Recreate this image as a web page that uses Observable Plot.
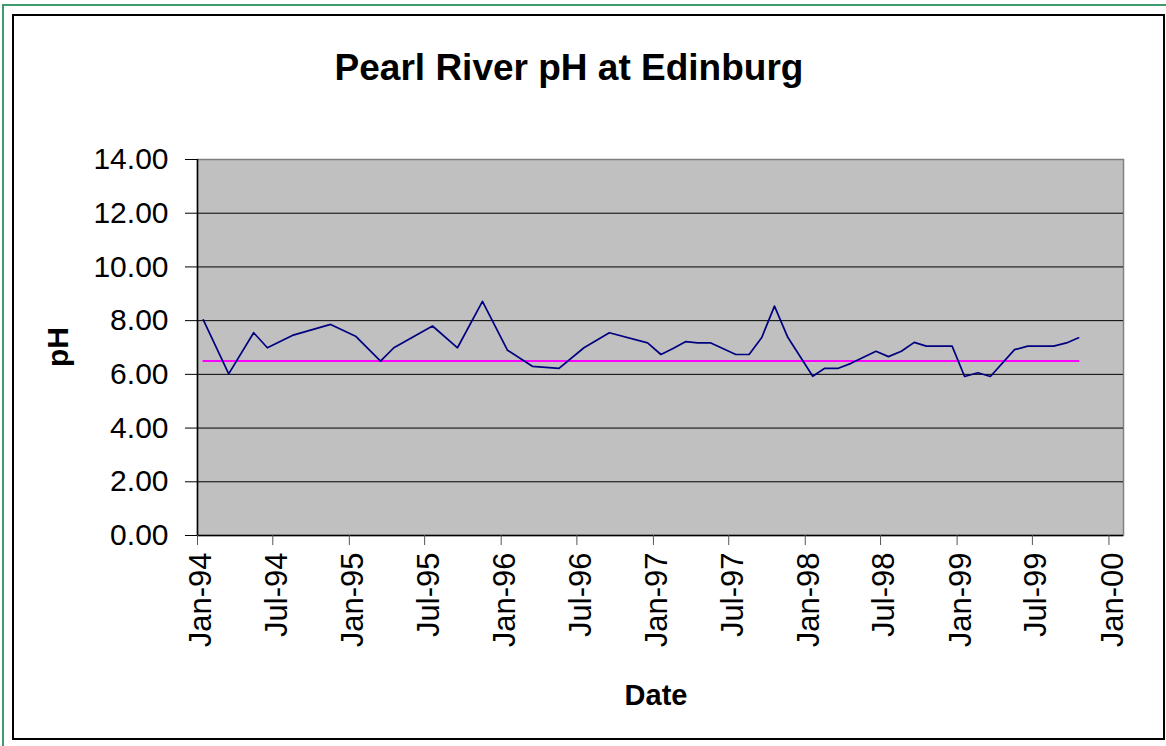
<!DOCTYPE html>
<html>
<head>
<meta charset="utf-8">
<script src="https://cdn.jsdelivr.net/npm/d3@7"></script>
<script src="https://cdn.jsdelivr.net/npm/@observablehq/plot@0.6"></script>
<style>
  html, body { margin: 0; padding: 0; background: #fff; }
  #wrap { position: relative; width: 1166px; height: 746px; overflow: hidden; font-family: "Liberation Sans", Arial, sans-serif; color: #000; }
  #green { position: absolute; left: 2px; top: 4px; width: 1180px; height: 760px; border-left: 2px solid #3d9b6f; border-top: 2px solid #3d9b6f; z-index: 3; pointer-events: none; }
  #black { position: absolute; left: 12px; top: 14px; width: 1149px; height: 722px; border: 2px solid #000; z-index: 3; pointer-events: none; }
  #title { position: absolute; left: 0; top: 49px; width: 1138px; text-align: center; font-weight: bold; font-size: 37px; line-height: 37px; white-space: nowrap; }
  #xlabel { position: absolute; left: 656px; top: 681px; transform: translateX(-50%); font-weight: bold; font-size: 29px; line-height: 29px; white-space: nowrap; }
  #ylabel { position: absolute; left: 58px; top: 347px; transform: translate(-50%, -50%) rotate(-90deg); font-weight: bold; font-size: 30px; line-height: 30px; white-space: nowrap; }
  #chart { position: absolute; left: 0; top: 110px; }
</style>
</head>
<body>
<div id="wrap">
  <div id="green"></div>
  <div id="black"></div>
  <div id="title">Pearl River pH at Edinburg</div>
  <div id="chart"></div>
  <div id="ylabel">pH</div>
  <div id="xlabel">Date</div>
</div>
<script>
// Sample dates and pH values
const sampleDates = [
  "1994-01-15","1994-03-17","1994-05-16","1994-06-18","1994-08-17","1994-11-17",
  "1995-01-16","1995-03-17","1995-04-18","1995-07-20","1995-09-18","1995-11-17",
  "1996-01-16","1996-03-16","1996-05-19","1996-07-18","1996-09-17","1996-12-18",
  "1997-01-19","1997-02-16","1997-03-20","1997-04-17","1997-05-19","1997-07-18",
  "1997-08-19","1997-09-18","1997-10-19","1997-11-20","1998-01-19","1998-02-16",
  "1998-03-20","1998-04-21","1998-06-20","1998-07-20","1998-08-20","1998-09-20",
  "1998-10-19","1998-11-20","1998-12-20","1999-01-19","1999-02-20","1999-03-22",
  "1999-05-19","1999-06-20","1999-07-22","1999-08-21","1999-09-21","1999-10-20"
];
const phValues = [
  8.03, 6.02, 7.55, 6.99, 7.45, 7.86,
  7.42, 6.49, 6.99, 7.80, 6.99, 8.72,
  6.90, 6.30, 6.22, 6.99, 7.55, 7.17,
  6.74, 6.95, 7.22, 7.17, 7.17, 6.74,
  6.74, 7.36, 8.54, 7.38, 5.93, 6.22,
  6.22, 6.41, 6.86, 6.66, 6.86, 7.19,
  7.05, 7.05, 7.05, 5.92, 6.06, 5.92,
  6.92, 7.05, 7.05, 7.05, 7.17, 7.36
];
const standardPH = 6.5;
const yTicks = [0, 2, 4, 6, 8, 10, 12, 14];
const xTickDates = [
  "1994-01-01","1994-07-01","1995-01-01","1995-07-01","1996-01-01","1996-07-01",
  "1997-01-01","1997-07-01","1998-01-01","1998-07-01","1999-01-01","1999-07-01","2000-01-01"
];
const xDomain = ["1994-01-01", "2000-02-05"];

const data = sampleDates.map((d, i) => ({date: new Date(d), ph: phValues[i]}));
const xd = xDomain.map(d => new Date(d));
const xt = xTickDates.map(d => new Date(d));

const chart = Plot.plot({
  width: 1166,
  height: 600,
  marginLeft: 197,
  marginRight: 43,
  marginTop: 49,
  marginBottom: 175,
  style: {background: "transparent", fontFamily: "'Liberation Sans', Arial, sans-serif", color: "#000", overflow: "visible"},
  x: {type: "utc", domain: xd},
  y: {domain: [0, 14]},
  marks: [
    Plot.frame({fill: "#C0C0C0", stroke: "#808080", strokeWidth: 1.5}),
    Plot.gridY(yTicks.filter(v => v > 0 && v < 14), {stroke: "#000", strokeOpacity: 1, strokeWidth: 1}),
    Plot.ruleX([xd[0]], {stroke: "#000", strokeWidth: 1.5}),
    Plot.ruleY([0], {stroke: "#000", strokeWidth: 1.5}),
    Plot.axisY(yTicks, {tickFormat: d3.format(".2f"), tickSize: 12, tickPadding: 17, fontSize: 30, label: null, stroke: "#000"}),
    Plot.axisX(xt, {tickFormat: () => "", tickSize: 10, label: null, stroke: "#555"}),
    Plot.axisX(xt, {tickFormat: d3.utcFormat("%b-%y"), tickRotate: -90, tickSize: 0, tickPadding: 17, fontSize: 31, dx: 4, label: null}),
    Plot.lineY(data, {x: "date", y: () => standardPH, stroke: "#FF00FF", strokeWidth: 2}),
    Plot.line(data, {x: "date", y: "ph", stroke: "#000080", strokeWidth: 1.7})
  ]
});
document.getElementById("chart").appendChild(chart);
</script>
</body>
</html>
